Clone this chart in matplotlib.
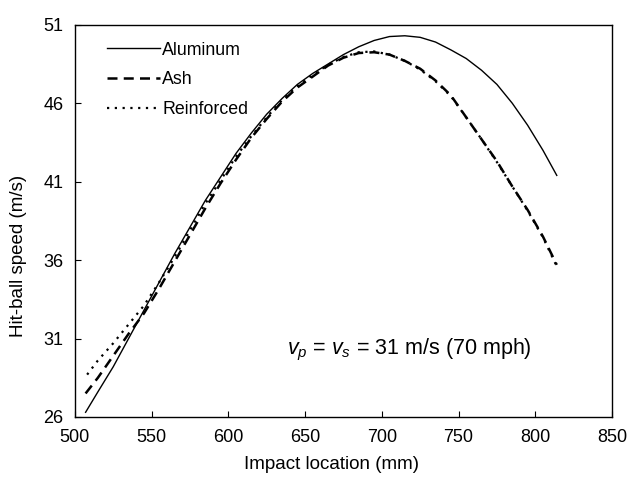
import matplotlib
matplotlib.use("Agg")
import matplotlib.pyplot as plt

plt.rcParams['font.family'] = ['Liberation Sans', 'DejaVu Sans']
plt.rcParams['mathtext.fontset'] = 'custom'
plt.rcParams['mathtext.rm'] = 'Liberation Sans'
plt.rcParams['mathtext.it'] = 'Liberation Sans:italic'

# Hit-ball speed vs impact location for three bat types
x_alu = [507, 515, 525, 535, 545, 555, 565, 575, 585, 595, 605, 615, 625, 635, 645,
         655, 665, 675, 685, 695, 705, 715, 725, 735, 745, 755, 765, 775, 785, 795, 805, 814]
aluminum = [26.3, 27.6, 29.2, 31.0, 32.8, 34.6, 36.4, 38.1, 39.8, 41.3, 42.8, 44.1, 45.3, 46.3, 47.2,
            47.9, 48.5, 49.1, 49.6, 50.0, 50.25, 50.3, 50.2, 49.9, 49.4, 48.85, 48.1, 47.2, 46.0, 44.6, 43.0, 41.4]

x_ash = [507, 515, 525, 535, 545, 555, 565, 575, 585, 595, 605, 615, 625, 635, 645,
         655, 665, 675, 685, 695, 705, 715, 725, 735, 745, 755, 765, 775, 785, 795, 805, 814]
ash = [27.5, 28.5, 29.9, 31.3, 32.6, 34.2, 35.9, 37.6, 39.3, 40.9, 42.4, 43.8, 45.0, 46.1, 47.0,
       47.7, 48.4, 48.9, 49.2, 49.25, 49.1, 48.7, 48.2, 47.45, 46.5, 45.1, 43.7, 42.3, 40.7, 39.2, 37.5, 35.7]

x_rein = [508, 515, 525, 535, 545, 555, 565, 575, 585, 595, 605, 615, 625, 635, 645,
          655, 665, 675, 685, 695, 705, 715, 725, 735, 745, 755, 765, 775, 785, 795, 805, 814]
reinforced = [28.7, 29.6, 30.7, 31.9, 33.1, 34.6, 36.2, 37.9, 39.6, 41.1, 42.6, 43.9, 45.1, 46.2, 47.1,
              47.8, 48.45, 48.95, 49.25, 49.3, 49.1, 48.7, 48.15, 47.4, 46.45, 45.1, 43.7, 42.25, 40.7, 39.15, 37.45, 35.6]

x_ticks = [500, 550, 600, 650, 700, 750, 800, 850]
y_ticks = [26, 31, 36, 41, 46, 51]

fig = plt.figure(figsize=(6.29, 4.86), dpi=100)
ax = fig.add_axes([0.119, 0.142, 0.854, 0.807])

ax.plot(x_alu, aluminum, color='black', lw=1.0, ls='-', label='Aluminum')
ax.plot(x_ash, ash, color='black', lw=1.8, ls=(0, (4, 2.5)), label='Ash')
ax.plot(x_rein, reinforced, color='black', lw=1.6, ls=(0, (1, 2.5)), label='Reinforced')

ax.set_xlim(500, 850)
ax.set_ylim(26, 51)
ax.set_xticks(x_ticks)
ax.set_yticks(y_ticks)
ax.tick_params(direction='in', length=4, width=0.8, labelsize=13, pad=9)
ax.tick_params(axis='y', pad=8)
for s in ax.spines.values():
    s.set_linewidth(1.0)

ax.set_xlabel('Impact location (mm)', fontsize=13.5)
ax.set_ylabel('Hit-ball speed (m/s)', fontsize=13.5)
ax.xaxis.set_label_coords(0.477, -0.1)
ax.yaxis.set_label_coords(-0.09, 0.41)

ax.text(718, 30.3, r'$v_p$ = $v_s$ = 31 m/s (70 mph)', fontsize=15.5,
        ha='center', va='center')

ax.legend(loc='upper left', bbox_to_anchor=(0.03, 0.998), frameon=False,
          fontsize=12.8, handlelength=3.0, handletextpad=0.1, labelspacing=0.72)

fig.savefig('out.png', dpi=100)
